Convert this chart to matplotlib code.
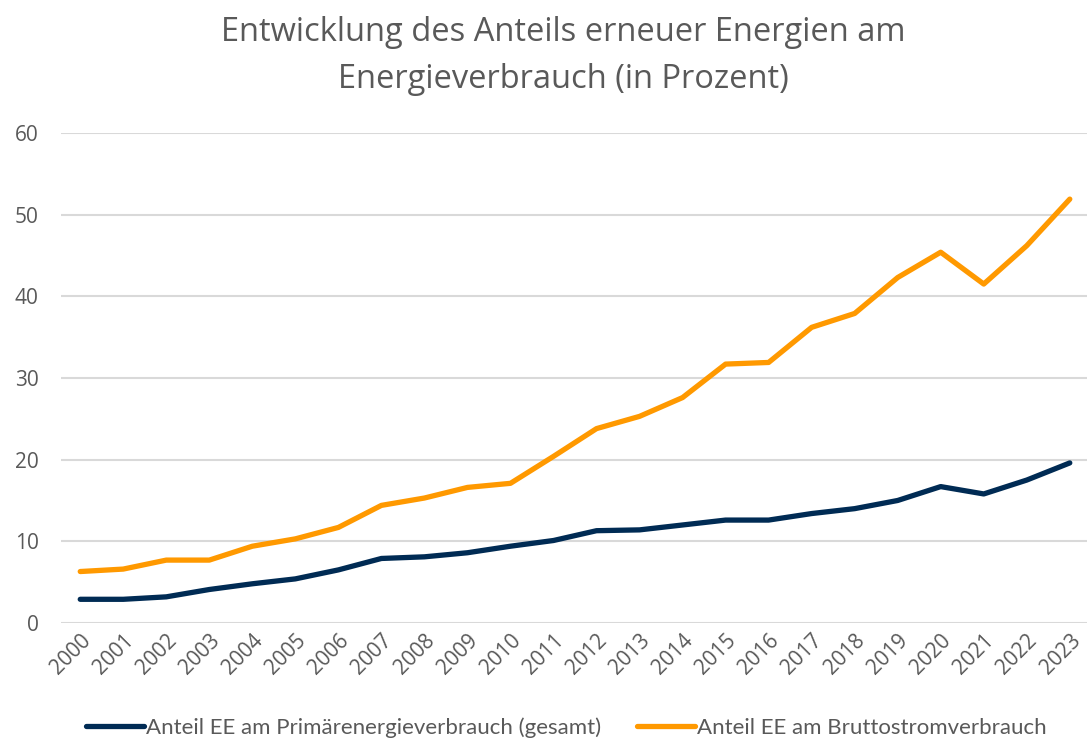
import matplotlib.pyplot as plt

years = [str(y) for y in range(2000, 2024)]
primaer = [2.9, 2.9, 3.2, 4.1, 4.8, 5.4, 6.5, 7.9, 8.1, 8.6, 9.4, 10.1,
           11.3, 11.4, 12.0, 12.6, 12.6, 13.4, 14.0, 15.0, 16.7, 15.8, 17.5, 19.6]
strom = [6.3, 6.6, 7.7, 7.7, 9.4, 10.3, 11.7, 14.4, 15.3, 16.6, 17.1, 20.4,
         23.8, 25.3, 27.6, 31.7, 31.9, 36.2, 37.9, 42.3, 45.4, 41.5, 46.2, 51.9]
labels = ['Anteil EE am Primärenergieverbrauch (gesamt)',
          'Anteil EE am Bruttostromverbrauch']
title = 'Entwicklung des Anteils erneuer Energien am\nEnergieverbrauch (in Prozent)'

grey = '#595959'
navy = '#002b54'
orange = '#ff9900'

fig = plt.figure(figsize=(10.87, 7.42), dpi=100)
ax = fig.add_axes([0.056, 0.1604, 0.944, 0.6604])

x = range(len(years))
ax.plot(x, primaer, color=navy, lw=3.8, solid_capstyle='round', label=labels[0])
ax.plot(x, strom, color=orange, lw=3.8, solid_capstyle='round', label=labels[1])

ax.set_ylim(0, 60)
ax.set_yticks(range(0, 61, 10))
ax.set_xlim(-0.45, 23.4)
ax.set_xticks(list(x))
ax.set_xticklabels(years, rotation=45, ha='right', rotation_mode='anchor')
ax.grid(axis='y', color='#d9d9d9', lw=1.5)
ax.set_axisbelow(True)
for s in ax.spines.values():
    s.set_visible(False)
ax.tick_params(length=0, labelsize=15, colors=grey)
ax.tick_params(axis='y', pad=16)
ax.tick_params(axis='x', pad=5)
for t in ax.get_xticklabels() + ax.get_yticklabels():
    t.set_family('Open Sans')

fig.text(0.518, 0.978, title, ha='center', va='top', fontsize=23.5,
         color=grey, family='Open Sans', linespacing=1.55)

fig.legend(loc='center', bbox_to_anchor=(0.521, 0.019), ncol=2, frameon=False,
           prop={'family': 'Lato', 'size': 16}, labelcolor=grey,
           handlelength=2.6, handletextpad=0.1, columnspacing=1.6)

fig.savefig('out.png', dpi=100)
